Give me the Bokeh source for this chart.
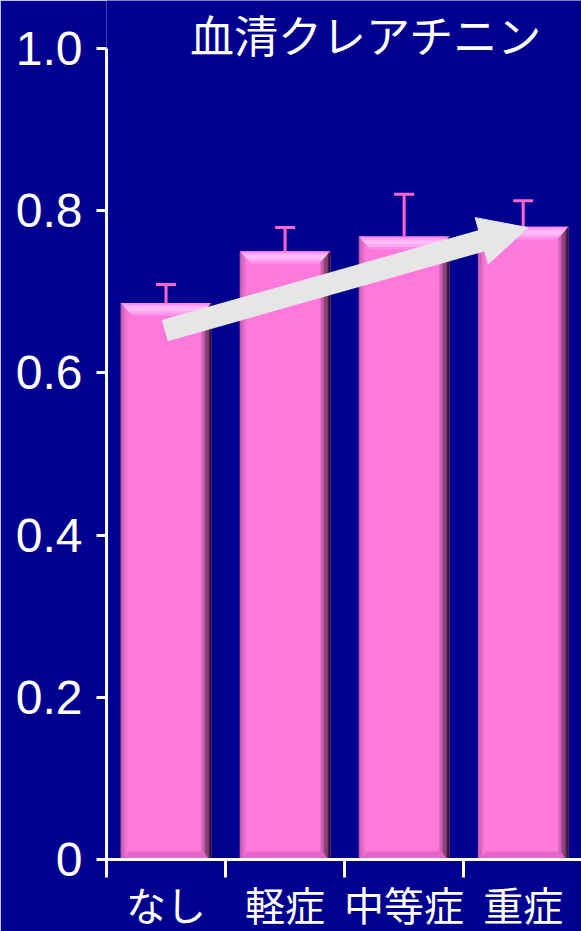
from bokeh.plotting import figure
from bokeh.models import Range1d, FixedTicker, Label, Arrow, NormalHead
from bokeh.core.properties import value
from bokeh.embed import file_html
from bokeh.resources import INLINE

# ---- data ----
categories = ["なし", "軽症", "中等症", "重症"]
means = [0.686, 0.750, 0.768, 0.780]
err_tops = [0.709, 0.779, 0.820, 0.812]
y_ticks = [0.0, 0.2, 0.4, 0.6, 0.8, 1.0]
y_tick_labels = ["0", "0.2", "0.4", "0.6", "0.8", "1.0"]
title_text = "血清クレアチニン"
# trend arrow (start, end) in data coordinates
arrow_x = [0.49, 3.54]
arrow_y = [0.652, 0.779]

# ---- styles ----
BG = "#000090"
PINK = "#FF78DC"
ERR = "#FF66CC"
WHITE = "#FFFFFF"
XPX = 1 / 119.0   # data units per pixel (x)
YPX = 1 / 812.0   # data units per pixel (y)
BAR_W = 0.76

p = figure(width=581, height=931, output_backend="svg", toolbar_location=None,
           x_range=Range1d(0, 3.99), y_range=Range1d(0, 1.059),
           min_border_left=106, min_border_right=0, min_border_top=0,
           min_border_bottom=71)
p.background_fill_color = BG
p.border_fill_color = BG
p.outline_line_color = None
p.xgrid.visible = False
p.ygrid.visible = False

centers = [i + 0.5 for i in range(len(categories))]

def hexmix(c1, c2, t):
    a = [int(c1[i:i + 2], 16) for i in (1, 3, 5)]
    b = [int(c2[i:i + 2], 16) for i in (1, 3, 5)]
    return "#%02X%02X%02X" % tuple(int(round(a[k] + (b[k] - a[k]) * t)) for k in range(3))

for c, v in zip(centers, means):
    L, R = c - BAR_W / 2, c + BAR_W / 2
    bot = -3 * YPX
    p.quad(left=L, right=R, bottom=bot, top=v, fill_color=PINK, line_color=None)
    # left edge shading
    n = 4
    for k in range(n):
        col = hexmix("#B85AA8", PINK, k / n)
        p.quad(left=L + k * 1.5 * XPX, right=L + (k + 1) * 1.5 * XPX, bottom=bot, top=v,
               fill_color=col, line_color=None)
    # right edge shading
    n = 8
    for k in range(n):
        col = hexmix(PINK, "#2A1428", (k + 1) / n)
        p.quad(left=R - (n - k) * 1.3 * XPX, right=R - (n - k - 1) * 1.3 * XPX,
               bottom=bot, top=v, fill_color=col, line_color=None)
    # bottom bevel
    bh = 8 * YPX
    bw = 8 * XPX
    p.patch(x=[L + bw, R - bw, R - 2 * XPX, L + 2 * XPX], y=[bh, bh, 0, 0],
            fill_color="#E466C6", line_color=None)
    # top bevel (layers)
    th = 13 * YPX
    tw = 12 * XPX
    layers = [("#FF8CE8", 0.0, 1.0), ("#FFA8F2", 0.15, 0.8), ("#FFBCF8", 0.3, 0.6)]
    for col, t0, t1 in layers:
        y0, y1 = v - t0 * th, v - t1 * th
        p.patch(x=[L + t0 * tw, R - t0 * tw, R - t1 * tw, L + t1 * tw],
                y=[y0, y0, y1, y1], fill_color=col, line_color=None)

# error bars (upper only)
cap = 10 * XPX
p.segment(x0=centers, y0=means, x1=centers, y1=err_tops, line_color=ERR, line_width=3)
p.segment(x0=[c - cap for c in centers], y0=err_tops, x1=[c + cap for c in centers],
          y1=err_tops, line_color=ERR, line_width=3)

# trend arrow
p.add_layout(Arrow(x_start=arrow_x[0], y_start=arrow_y[0], x_end=arrow_x[1], y_end=arrow_y[1],
                   line_color="#E6E6E6", line_width=22, line_cap="butt",
                   end=NormalHead(size=48, fill_color="#E6E6E6", line_color="#E6E6E6", line_width=1)))

# title
p.add_layout(Label(x=2.18, y=1.057, text=title_text, text_align="center", text_baseline="top",
                   text_color=WHITE, text_font_size="44px",
                   text_font="'Noto Sans CJK JP', sans-serif"))

# y axis
ya = p.yaxis[0]
ya.ticker = FixedTicker(ticks=y_ticks)
ya.major_label_overrides = {t: s for t, s in zip(y_ticks, y_tick_labels)}
ya.bounds = (0, 1.0)
ya.axis_line_color = WHITE
ya.axis_line_width = 3
ya.major_tick_line_color = WHITE
ya.major_tick_line_width = 3
ya.major_tick_out = 10
ya.major_tick_in = 0
ya.minor_tick_line_color = None
ya.major_label_standoff = 14
ya.major_label_text_color = WHITE
ya.major_label_text_font_size = "48px"
ya.major_label_text_font = "'Liberation Sans', Arial, sans-serif"

# x axis
xa = p.xaxis[0]
xa.ticker = FixedTicker(ticks=centers, minor_ticks=[0, 1, 2, 3])
xa.major_label_overrides = {c: s for c, s in zip(centers, categories)}
xa.bounds = (0, 3.99)
xa.axis_line_color = WHITE
xa.axis_line_width = 3
xa.major_tick_line_color = None
xa.major_tick_out = 18
xa.major_tick_in = 0
xa.minor_tick_line_color = WHITE
xa.minor_tick_line_width = 3
xa.minor_tick_out = 18
xa.minor_tick_in = 0
xa.major_label_standoff = 7
xa.major_label_text_color = WHITE
xa.major_label_text_font_size = "40px"
xa.major_label_text_font = "'Liberation Sans', 'Noto Sans CJK JP', sans-serif"

open("out.html", "w").write(file_html(p, INLINE))
